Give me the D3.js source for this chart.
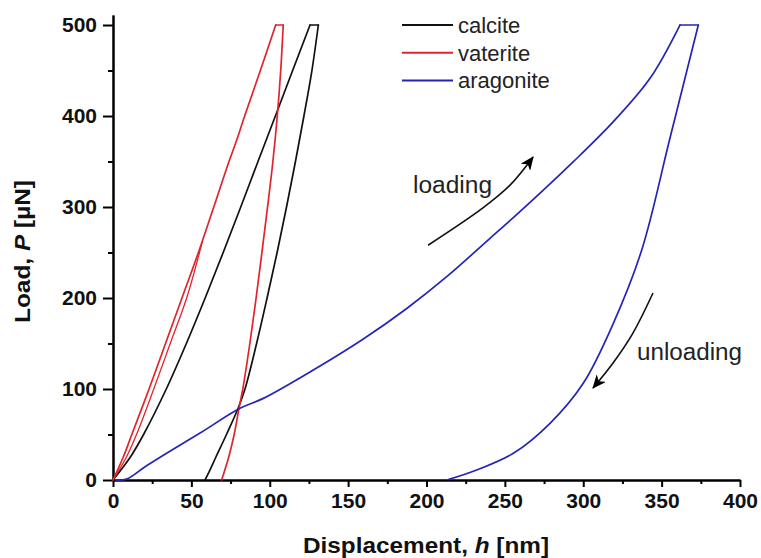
<!DOCTYPE html>
<html><head><meta charset="utf-8">
<script src="https://cdn.jsdelivr.net/npm/d3@7"></script>
<style>body{margin:0;background:#fff}svg{display:block}</style>
</head><body>
<svg id="chart" width="761" height="558"></svg>
<script>
// ---- data (displacement h [nm], load P [µN]) ----
const calciteLoadH = [0, 11, 19.5, 34, 46.8, 58.8, 70.3, 81.5, 92.5, 103.6, 114.6, 125.7];
const calciteLoadP = [0, 25, 50, 100, 150, 200, 250, 300, 350, 400, 450, 500];
const calciteUnloadH = [131, 126.9, 121.8, 116.4, 110.7, 104.7, 98.3, 91.6, 84.2, 79.8, 72.4, 65.6, 61.6, 58.7];
const calciteUnloadP = [500, 450, 400, 350, 300, 250, 200, 150, 100, 78.8, 50, 25, 10, 0];

const vateriteLoadH = [0, 6.5, 12, 23, 33.5, 44, 54.5, 64.3, 74, 78.6, 84, 94, 103.8];
const vateriteLoadP = [0, 25, 50, 100, 150, 200, 250, 300, 350, 372, 400, 450, 500];
const vateriteUnloadH = [108.6, 107, 104.8, 102, 98.6, 95, 91.3, 87.3, 82.8, 80.3, 77.3, 73.8, 69.3];
const vateriteUnloadP = [500, 450, 400, 350, 300, 250, 200, 150, 100, 78, 50, 25, 0];
const vateriteTraceH = [0, 8.5, 15, 26, 36.5, 47, 57];
const vateriteTraceP = [0, 25, 50, 100, 150, 200, 262];

const aragoniteLoadH = [1.5, 8.7, 20, 34.2, 55, 81, 95.9, 127.8, 159.7, 187.4, 212.9, 240.5, 259.6, 293.7, 319.2, 342.6, 361.7];
const aragoniteLoadP = [0, 1, 14, 29.3, 51, 78.8, 89.7, 120.9, 155, 188.5, 223.4, 265.6, 294.8, 349.8, 393.8, 441.4, 500];
const aragoniteUnloadH = [373.4, 355.3, 337.3, 319.2, 300, 278.8, 255.4, 232, 213.9];
const aragoniteUnloadP = [500, 375.5, 252.7, 172.2, 106.3, 62.3, 29.3, 11, 0.5];

const seriesNames = ["calcite", "vaterite", "aragonite"];
const seriesColors = ["#111111", "#e3232b", "#2424b8"];

const xMajorTicks = [0, 50, 100, 150, 200, 250, 300, 350, 400];
const xMinorTicks = [25, 75, 125, 175, 225, 275, 325, 375];
const yMajorTicks = [0, 100, 200, 300, 400, 500];
const yMinorTicks = [50, 150, 250, 350, 450];

const loadingArrowH = [201, 236, 253.3, 268];
const loadingArrowP = [258, 299, 324, 355];
const unloadingArrowH = [344.5, 331.7, 319, 306.2];
const unloadingArrowP = [205.5, 161.5, 128.6, 101];

// ---- drawing ----
const svg = d3.select("#chart");
const FONT = "'Liberation Sans', Arial, Helvetica, sans-serif";
const x = d3.scaleLinear().domain([0, 400]).range([113, 740]);
const y = d3.scaleLinear().domain([0, 511]).range([480, 15]);

const defs = svg.append("defs");
defs.append("marker").attr("id", "ah").attr("viewBox", "0 0 14 12")
  .attr("refX", 13).attr("refY", 6).attr("markerWidth", 14).attr("markerHeight", 12)
  .attr("markerUnits", "userSpaceOnUse").attr("orient", "auto")
  .append("path").attr("d", "M0,0 L14,6 L0,12 L4,6 Z").attr("fill", "#000");

const smooth = d3.line().x(d => x(d[0])).y(d => y(d[1])).curve(d3.curveCatmullRom.alpha(0.5));
const straight = d3.line().x(d => x(d[0])).y(d => y(d[1]));
const zip = (a, b) => a.map((v, i) => [v, b[i]]);

// axes
function styleAxis(g) {
  g.selectAll(".domain").attr("stroke", "#000").attr("stroke-width", 2);
  g.selectAll(".tick line").attr("stroke", "#000").attr("stroke-width", 2);
  g.selectAll("text").attr("font-family", FONT).attr("font-weight", "bold")
    .attr("font-size", 21).attr("fill", "#111");
}
const gxMinor = svg.append("g").attr("transform", "translate(0,480)")
  .call(d3.axisBottom(x).tickValues(xMinorTicks).tickSize(4).tickSizeOuter(0).tickFormat(""));
const gx = svg.append("g").attr("transform", "translate(0,480)")
  .call(d3.axisBottom(x).tickValues(xMajorTicks).tickSize(7).tickSizeOuter(0).tickPadding(6));
const gyMinor = svg.append("g").attr("transform", "translate(113,0)")
  .call(d3.axisLeft(y).tickValues(yMinorTicks).tickSize(5).tickSizeOuter(0).tickFormat(""));
const gy = svg.append("g").attr("transform", "translate(113,0)")
  .call(d3.axisLeft(y).tickValues(yMajorTicks).tickSize(10).tickSizeOuter(0).tickPadding(6));
[gxMinor, gx, gyMinor, gy].forEach(styleAxis);

// curves: loading branch, hold plateau, unloading branch
const series = [
  [zip(calciteLoadH, calciteLoadP), zip(calciteUnloadH, calciteUnloadP)],
  [zip(vateriteLoadH, vateriteLoadP), zip(vateriteUnloadH, vateriteUnloadP)],
  [zip(aragoniteLoadH, aragoniteLoadP), zip(aragoniteUnloadH, aragoniteUnloadP)]
];
series.forEach(([load, unload], i) => {
  const g = svg.append("g").attr("fill", "none").attr("stroke", seriesColors[i])
    .attr("stroke-width", 1.7).attr("stroke-linejoin", "round").attr("stroke-linecap", "round");
  g.append("path").attr("d", smooth(load));
  g.append("path").attr("d", straight([load[load.length - 1], unload[0]]));
  g.append("path").attr("d", smooth(unload));
});
svg.append("path").attr("d", smooth(zip(vateriteTraceH, vateriteTraceP))).attr("fill", "none")
  .attr("stroke", seriesColors[1]).attr("stroke-width", 1.3);

// axis titles
const xt = svg.append("text").attr("x", 426).attr("y", 553).attr("text-anchor", "middle")
  .attr("font-family", FONT).attr("font-weight", "bold").attr("font-size", 22).attr("fill", "#111")
  .attr("textLength", 246).attr("lengthAdjust", "spacingAndGlyphs");
xt.append("tspan").text("Displacement, ");
xt.append("tspan").attr("font-style", "italic").text("h");
xt.append("tspan").text(" [nm]");

const yt = svg.append("text").attr("transform", "translate(30,251.5) rotate(-90)").attr("text-anchor", "middle")
  .attr("font-family", FONT).attr("font-weight", "bold").attr("font-size", 22).attr("fill", "#111")
  .attr("textLength", 143).attr("lengthAdjust", "spacingAndGlyphs");
yt.append("tspan").text("Load, ");
yt.append("tspan").attr("font-style", "italic").text("P");
yt.append("tspan").text(" [\u00B5N]");

// legend
seriesNames.forEach((n, i) => {
  const ly = 25 + i * 27.8;
  svg.append("line").attr("x1", 402).attr("x2", 453).attr("y1", ly).attr("y2", ly)
    .attr("stroke", seriesColors[i]).attr("stroke-width", 2);
  svg.append("text").attr("x", 458).attr("y", ly + 7.7).text(n)
    .attr("font-family", FONT).attr("font-size", 22).attr("fill", "#222");
});

// annotations
svg.append("path").attr("d", smooth(zip(loadingArrowH, loadingArrowP))).attr("fill", "none")
  .attr("stroke", "#111").attr("stroke-width", 1.6).attr("marker-end", "url(#ah)");
svg.append("path").attr("d", smooth(zip(unloadingArrowH, unloadingArrowP))).attr("fill", "none")
  .attr("stroke", "#111").attr("stroke-width", 1.6).attr("marker-end", "url(#ah)");
svg.append("text").attr("x", x(191.4)).attr("y", y(315.4)).text("loading")
  .attr("font-family", FONT).attr("font-size", 23).attr("fill", "#222")
  .attr("textLength", 79).attr("lengthAdjust", "spacingAndGlyphs");
svg.append("text").attr("x", x(334.3)).attr("y", y(131.9)).text("unloading")
  .attr("font-family", FONT).attr("font-size", 23).attr("fill", "#222")
  .attr("textLength", 105).attr("lengthAdjust", "spacingAndGlyphs");
</script>
</body></html>
